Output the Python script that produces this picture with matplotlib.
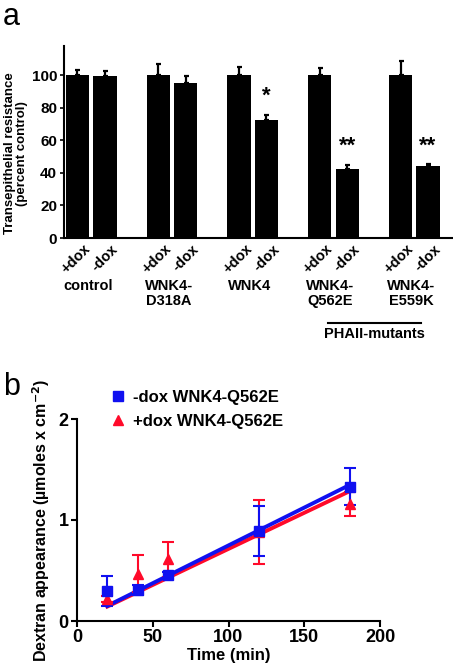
import matplotlib
matplotlib.use("Agg")
import matplotlib.pyplot as plt
import numpy as np
from matplotlib import transforms
from matplotlib.lines import Line2D

plt.rcParams['font.family'] = ['Liberation Sans', 'DejaVu Sans']
plt.rcParams['font.weight'] = 'bold'

# ---------------- Panel a data ----------------
groups = ["control", "WNK4-\nD318A", "WNK4", "WNK4-\nQ562E", "WNK4-\nE559K"]
conditions = ["+dox", "-dox"]
plus_dox = [100, 100, 100, 100, 100]
plus_dox_err = [3.5, 7.2, 4.9, 4.3, 8.6]
minus_dox = [99.4, 95.3, 72.7, 42.7, 44.4]
minus_dox_err = [3.3, 4.1, 3.1, 2.3, 0.8]
stars = ["", "", "*", "**", "**"]
a_yticks = [0, 20, 40, 60, 80, 100]

# ---------------- Panel b data ----------------
time_min = [20, 40, 60, 120, 180]
minus_q562e = [0.30, 0.31, 0.46, 0.89, 1.33]
minus_q562e_err = [0.15, 0.05, 0.03, 0.245, 0.18]
plus_q562e = [0.22, 0.47, 0.61, 0.88, 1.16]
plus_q562e_err = [0.03, 0.18, 0.17, 0.32, 0.12]
b_xticks = [0, 50, 100, 150, 200]
b_yticks = [0, 1, 2]

W, H = 453, 669
fig = plt.figure(figsize=(W / 100, H / 100), dpi=100)

# ---------------- Panel a ----------------
axa = fig.add_axes([64 / W, (H - 238) / H, (452 - 64) / W, 192 / H])
x = np.arange(len(groups))
bw = 0.29
off = 0.17
axa.bar(x - off, plus_dox, bw, color='black')
axa.bar(x + off, minus_dox, bw, color='black')
axa.errorbar(x - off, plus_dox, yerr=[np.zeros(len(x)), plus_dox_err], fmt='none',
             ecolor='black', elinewidth=1.6, capsize=1.8, capthick=1.6)
axa.errorbar(x + off, minus_dox, yerr=[np.zeros(len(x)), minus_dox_err], fmt='none',
             ecolor='black', elinewidth=1.6, capsize=1.8, capthick=1.6)
for xi, v, e, s in zip(x, minus_dox, minus_dox_err, stars):
    if s:
        axa.text(xi + off, v + e + 5, s, ha='center', va='bottom', fontsize=16,
                 fontweight='bold')
axa.set_xlim(-0.337, 4.467)
axa.set_ylim(0, 118)
axa.set_yticks(a_yticks)
axa.tick_params(axis='y', labelsize=11, length=3, width=1.2, pad=2)
axa.set_xticks([])
for sp in ['top', 'right']:
    axa.spines[sp].set_visible(False)
axa.spines['left'].set_linewidth(1.5)
axa.spines['bottom'].set_linewidth(1.5)
for lab in axa.get_yticklabels():
    lab.set_fontweight('bold')
axa.set_ylabel("Transepithelial resistance\n(percent control)", fontsize=9.5,
               fontweight='bold', linespacing=1.0)
axa.yaxis.set_label_coords(-0.092, 0.44)

bt = transforms.blended_transform_factory(axa.transData, axa.transAxes)
for xi in x:
    for k, c in enumerate(conditions):
        xc = xi - off if k == 0 else xi + off
        axa.text(xc + 0.07, -0.02, c, transform=bt, rotation=45, ha='right', va='top',
                 rotation_mode='anchor', fontsize=10.5, fontweight='bold')
for xi, g in zip(x, groups):
    axa.text(xi - 0.04, -0.215, g, transform=bt, ha='center', va='top', fontsize=10.5,
             fontweight='bold', linespacing=1.05)
axa.plot([2.93, 4.08], [-0.445, -0.445], transform=bt, color='black', lw=1.5,
         clip_on=False)
axa.text(3.51, -0.465, "PHAII-mutants", transform=bt, ha='center', va='top', fontsize=10.5,
         fontweight='bold')

fig.text(3 / W, 1 - 2 / H, "a", fontsize=22, fontweight='normal', va='top', ha='left')

# ---------------- Panel b ----------------
axb = fig.add_axes([77 / W, (H - 621) / H, (380 - 77) / W, 202 / H])
t = np.array(time_min, dtype=float)
blue = '#1010f0'
red = '#ff0a2a'
handles = []
for yv, ye, col, mk, lab in [(plus_q562e, plus_q562e_err, red, '^', "+dox WNK4-Q562E"),
                             (minus_q562e, minus_q562e_err, blue, 's', "-dox WNK4-Q562E")]:
    yv = np.array(yv)
    slope = np.sum(t * yv) / np.sum(t * t)
    xs = np.array([t.min(), t.max()])
    axb.plot(xs, slope * xs, color=col, lw=2.8, zorder=3)
    axb.errorbar(t, yv, yerr=ye, fmt=mk, color=col, ecolor=col, ms=7, elinewidth=1.5,
                 capsize=4, capthick=1.5, zorder=4)
    handles.append(Line2D([], [], linestyle='none', marker=mk, color=col, ms=7, label=lab))
axb.set_xlim(0, 200)
axb.set_ylim(0, 2)
axb.set_xticks(b_xticks)
axb.set_yticks(b_yticks)
axb.tick_params(labelsize=13, length=4, width=1.5, pad=2)
for lab in axb.get_xticklabels() + axb.get_yticklabels():
    lab.set_fontweight('bold')
for sp in ['top', 'right']:
    axb.spines[sp].set_visible(False)
axb.spines['left'].set_linewidth(1.5)
axb.spines['bottom'].set_linewidth(1.5)
axb.set_xlabel("Time (min)", fontsize=12, fontweight='bold', labelpad=1)
axb.set_ylabel("Dextran appearance (\u00b5moles x cm$^{\\mathbf{-2}}$)", fontsize=11.5,
               fontweight='bold', labelpad=5)
leg = axb.legend(handles[::-1], [h.get_label() for h in handles[::-1]], loc='upper left',
                 bbox_to_anchor=(0.085, 1.175), frameon=False, fontsize=12,
                 handletextpad=0.4, handlelength=1.0, labelspacing=0.5, borderaxespad=0)
for txt in leg.get_texts():
    txt.set_fontweight('bold')
fig.text(3 / W, 1 - 372 / H, "b", fontsize=22, fontweight='normal', va='top', ha='left')

fig.savefig("out.png", dpi=100)
